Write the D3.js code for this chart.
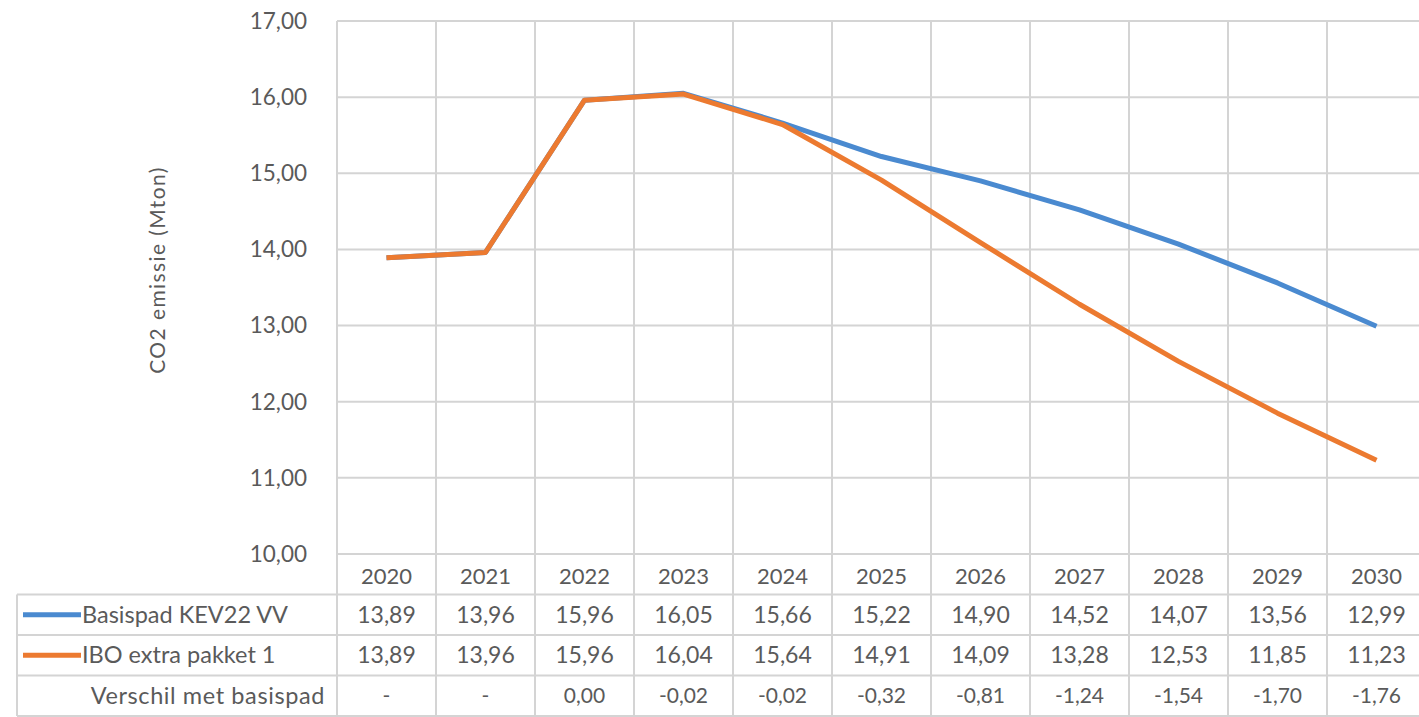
<!DOCTYPE html>
<html>
<head>
<meta charset="utf-8">
<script src="https://cdn.jsdelivr.net/npm/d3@7"></script>
<style>
  html, body { margin: 0; padding: 0; background: #fff; }
  svg { display: block; }
  text { font-family: Lato, "Open Sans", sans-serif; fill: #5a5a5a; }
</style>
</head>
<body>
<svg id="chart" width="1419" height="717"></svg>
<script>
const years = ["2020","2021","2022","2023","2024","2025","2026","2027","2028","2029","2030"];
const basispad = [13.89, 13.96, 15.96, 16.05, 15.66, 15.22, 14.90, 14.52, 14.07, 13.56, 12.99];
const ibo = [13.89, 13.96, 15.96, 16.04, 15.64, 14.91, 14.09, 13.28, 12.53, 11.85, 11.23];
const verschil = ["-", "-", "0,00", "-0,02", "-0,02", "-0,32", "-0,81", "-1,24", "-1,54", "-1,70", "-1,76"];
const seriesNames = ["Basispad KEV22 VV", "IBO extra pakket 1"];
const diffLabel = "Verschil met basispad";
const yTicks = [10, 11, 12, 13, 14, 15, 16, 17];
const yTitle = "CO2 emissie (Mton)";
const colors = ["#4a8ad0", "#ec7a30"];

const svg = d3.select("#chart");
const plotLeft = 337, bandW = 99, plotTop = 21, plotBottom = 554;
const tableLeft = 17, rowH = 40.5;

const x = d3.scaleBand().domain(years).range([plotLeft, plotLeft + bandW * years.length]).padding(0);
const y = d3.scaleLinear().domain([10, 17]).range([plotBottom, plotTop]);
const fmt = v => d3.format(".2f")(v).replace(".", ",");

const grid = "#d4d4d4";
const rightEdge = plotLeft + bandW * years.length;

// horizontal gridlines
svg.append("g").selectAll("line").data(yTicks).join("line")
  .attr("x1", plotLeft).attr("x2", rightEdge)
  .attr("y1", d => y(d)).attr("y2", d => y(d))
  .attr("stroke", grid).attr("stroke-width", 2);

// vertical gridlines (plot + table)
const tableBottom = plotBottom + rowH * 4;
svg.append("g").selectAll("line").data(years.concat(["end"])).join("line")
  .attr("x1", (d, i) => plotLeft + i * bandW).attr("x2", (d, i) => plotLeft + i * bandW)
  .attr("y1", plotTop).attr("y2", tableBottom)
  .attr("stroke", grid).attr("stroke-width", 2);

// table horizontal lines
const rowLines = [1, 2, 3, 4];
svg.append("g").selectAll("line").data(rowLines).join("line")
  .attr("x1", tableLeft).attr("x2", rightEdge)
  .attr("y1", d => plotBottom + rowH * d).attr("y2", d => plotBottom + rowH * d)
  .attr("stroke", grid).attr("stroke-width", 2);
svg.append("line")
  .attr("x1", tableLeft).attr("x2", tableLeft)
  .attr("y1", plotBottom + rowH).attr("y2", tableBottom)
  .attr("stroke", grid).attr("stroke-width", 2);

// y axis labels
svg.append("g").selectAll("text").data(yTicks).join("text")
  .attr("x", 307).attr("y", d => y(d)).attr("dy", "0.35em")
  .attr("text-anchor", "end").attr("font-size", 22.5)
  .text(d => fmt(d));

// y title
svg.append("text")
  .attr("transform", `translate(165,270) rotate(-90)`)
  .attr("text-anchor", "middle").attr("font-size", 21).attr("letter-spacing", 1.4)
  .text(yTitle);

// lines
const line = d3.line().x((d, i) => x(years[i]) + x.bandwidth() / 2).y(d => y(d));
[basispad, ibo].forEach((s, k) => {
  svg.append("path").datum(s)
    .attr("d", line).attr("fill", "none")
    .attr("stroke", colors[k]).attr("stroke-width", 5)
    .attr("stroke-linejoin", "round");
});

// table header
const cx = d => x(d) + x.bandwidth() / 2;
svg.append("g").selectAll("text").data(years).join("text")
  .attr("x", cx).attr("y", plotBottom + rowH / 2 + 2).attr("dy", "0.35em")
  .attr("text-anchor", "middle").attr("font-size", 22).text(d => d);

// table rows
const rows = [basispad.map(fmt), ibo.map(fmt), verschil];
rows.forEach((r, k) => {
  const ry = plotBottom + rowH * (k + 1) + rowH / 2;
  svg.append("g").selectAll("text").data(r).join("text")
    .attr("x", (d, i) => cx(years[i])).attr("y", ry).attr("dy", "0.35em")
    .attr("text-anchor", "middle").attr("font-size", k === 2 ? 21 : 23)
    .attr("fill", k === 2 ? "#7a7a7a" : "#5a5a5a")
    .text(d => d);
});

// row headers with legend keys
seriesNames.forEach((n, k) => {
  const ry = plotBottom + rowH * (k + 1) + rowH / 2;
  svg.append("line").attr("x1", 23).attr("x2", 81).attr("y1", ry).attr("y2", ry)
    .attr("stroke", colors[k]).attr("stroke-width", 5);
  svg.append("text").attr("x", 82).attr("y", ry).attr("dy", "0.35em")
    .attr("font-size", 23.5).text(n);
});
svg.append("text").attr("x", 325).attr("y", plotBottom + rowH * 3 + rowH / 2).attr("dy", "0.35em")
  .attr("text-anchor", "end").attr("font-size", 23.5).attr("letter-spacing", 0.6).text(diffLabel);
</script>
</body>
</html>
